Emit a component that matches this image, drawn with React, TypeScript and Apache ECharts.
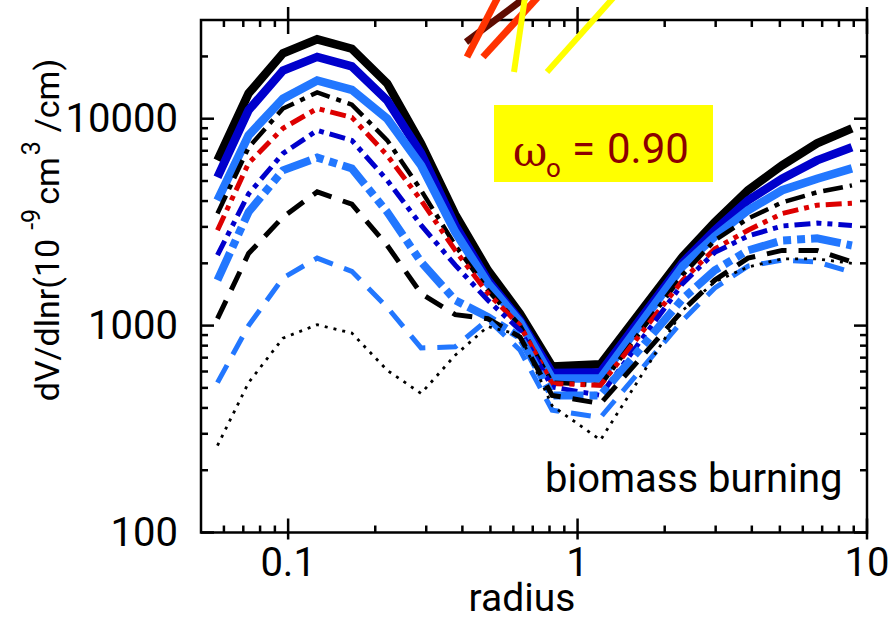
import React, { useEffect, useRef } from 'react';
import * as echarts from 'echarts';

// radius grid (µm)
const radius = [0.057, 0.073, 0.096, 0.126, 0.166, 0.22, 0.288, 0.378, 0.49, 0.633, 0.817, 1.2, 2.31, 2.98, 3.88, 5.09, 6.72, 8.87];

// dV/dlnr series
const blackSolid = [6290, 13250, 20700, 24200, 21800, 14800, 7580, 3440, 1850, 1140, 635, 650, 2160, 3160, 4510, 5950, 7600, 8980];
const blueSolid = [5210, 11000, 17100, 19900, 17900, 12260, 6800, 3050, 1660, 1060, 590, 595, 2020, 2890, 4030, 5130, 6290, 7280];
const lightBlueSolid = [4030, 8310, 12500, 15300, 13800, 10000, 5950, 2830, 1600, 1040, 555, 555, 1940, 2700, 3610, 4510, 5130, 5750];
const blackDashDot = [3480, 7250, 11200, 13400, 11700, 7860, 4510, 2440, 1480, 1000, 530, 515, 1760, 2580, 3290, 3940, 4410, 4760];
const redDashDotDot = [2890, 6100, 8990, 11200, 10150, 6650, 4030, 2310, 1430, 1000, 525, 515, 1660, 2350, 2890, 3480, 3820, 3900];
const blueDashDotDot = [2190, 4330, 6800, 8780, 7860, 5040, 3060, 1960, 1325, 950, 505, 460, 1600, 2260, 2710, 3030, 3130, 3050];
const lightBlueDashDot = [1660, 3540, 5630, 6490, 5750, 3540, 2030, 1325, 1100, 880, 460, 460, 1350, 1850, 2310, 2580, 2640, 2440];
const blackDashed = [1080, 2230, 3350, 4430, 3860, 2440, 1430, 1130, 1080, 880, 460, 420, 1186, 1660, 2120, 2310, 2310, 2030];
const lightBlueDashed = [530, 1000, 1700, 2120, 1830, 1225, 780, 790, 1070, 760, 390, 360, 1060, 1520, 1940, 2070, 2030, 1810];
const blackDotted = [263, 530, 870, 1010, 920, 608, 470, 720, 990, 900, 410, 280, 1186, 1630, 1920, 2100, 2100, 2000];

// ticks and labels
const xMajorTicks = [0.1, 1, 10];
const xTickLabels = ['0.1', '1', '10'];
const xMinorTicks = [0.06, 0.07, 0.08, 0.09, 0.2, 0.3, 0.4, 0.5, 0.6, 0.7, 0.8, 0.9, 2, 3, 4, 5, 6, 7, 8, 9];
const yMajorTicks = [100, 1000, 10000];
const yTickLabels = ['100', '1000', '10000'];
const yMinorTicks = [200, 300, 400, 500, 600, 700, 800, 900, 2000, 3000, 4000, 5000, 6000, 7000, 8000, 9000, 20000];

const X_MIN = 0.05, X_MAX = 10, Y_MIN = 100, Y_MAX = 30000;
const FONT = 'Roboto, "DejaVu Sans", sans-serif';

function labelFor(v: number, ticks: number[], labels: string[]) {
  for (let i = 0; i < ticks.length; i++) {
    if (Math.abs(Math.log10(v) - Math.log10(ticks[i])) < 1e-6) return labels[i];
  }
  return '';
}

function measure(text: string, size: number) {
  const c = document.createElement('canvas').getContext('2d')!;
  c.font = `${size}px Roboto`;
  return c.measureText(text).width;
}

export default function App() {
  const ref = useRef<HTMLDivElement>(null);
  useEffect(() => {
    document.body.style.margin = '0';
    const chart = echarts.init(ref.current!, null, { renderer: 'svg' });

    const defs = [
      { data: blackSolid, color: '#000000', width: 8.5, type: 'solid' as any },
      { data: blueSolid, color: '#0000CC', width: 8.5, type: 'solid' as any },
      { data: lightBlueSolid, color: '#2277FF', width: 8.5, type: 'solid' as any },
      { data: blackDashDot, color: '#000000', width: 4.5, type: [20, 7, 5, 7] },
      { data: redDashDotDot, color: '#DD0000', width: 5, type: [16, 6, 5, 6, 5, 6] },
      { data: blueDashDotDot, color: '#0000CC', width: 5, type: [16, 6, 5, 6, 5, 6] },
      { data: lightBlueDashDot, color: '#2277FF', width: 8, type: [30, 6, 8, 6, 8, 6] },
      { data: blackDashed, color: '#000000', width: 5, type: [20, 12] },
      { data: lightBlueDashed, color: '#2277FF', width: 5, type: [20, 12] },
      { data: blackDotted, color: '#000000', width: 2.8, type: [3, 6] },
    ];

    const lineSeries = defs.map((d) => ({
      type: 'line',
      data: radius.map((r, i) => [r, d.data[i]]),
      symbol: 'none',
      silent: true,
      itemStyle: { color: d.color },
      lineStyle: { color: d.color, width: d.width, type: d.type, cap: 'butt', join: 'miter' },
    }));

    const tickData: number[][] = [];
    xMajorTicks.forEach((v) => tickData.push([v, Y_MIN, 0, 1]));
    xMinorTicks.forEach((v) => tickData.push([v, Y_MIN, 0, 0]));
    yMajorTicks.forEach((v) => tickData.push([X_MIN, v, 1, 1]));
    yMinorTicks.forEach((v) => tickData.push([X_MIN, v, 1, 0]));

    const tickStyle = { stroke: '#000', lineWidth: 2.5 };
    const tickSeries = {
      type: 'custom',
      silent: true,
      clip: false,
      z: 5,
      data: tickData,
      encode: { x: 0, y: 1 },
      renderItem: (params: any, api: any) => {
        const cs = params.coordSys;
        const kind = api.value(2);
        const major = api.value(3) === 1;
        const left = cs.x, right = cs.x + cs.width, top = cs.y, bot = cs.y + cs.height;
        if (kind === 0) {
          const px = api.coord([api.value(0), Y_MIN])[0];
          const inLen = major ? 14 : 7;
          return {
            type: 'group',
            children: [
              { type: 'line', shape: { x1: px, y1: bot + (major ? 7 : 0), x2: px, y2: bot - inLen }, style: tickStyle },
              { type: 'line', shape: { x1: px, y1: top - (major ? 13 : 0), x2: px, y2: top + inLen }, style: tickStyle },
            ],
          };
        }
        const py = api.coord([X_MIN, api.value(1)])[1];
        const inLen = major ? 13 : 7;
        return {
          type: 'group',
          children: [
            { type: 'line', shape: { x1: left, y1: py, x2: left + inLen, y2: py }, style: tickStyle },
            { type: 'line', shape: { x1: right, y1: py, x2: right - inLen, y2: py }, style: tickStyle },
          ],
        };
      },
    };

    // y axis name pieces (rotated)
    const B = 34, S = 25;
    const p1 = 'dV/dlnr(10', p2 = '-9', p3 = 'cm', p4 = '3', p5 = '/cm)';
    const w1 = measure(p1, B), w2 = measure(p2, S), w3 = measure(p3, B), w4 = measure(p4, S), w5 = measure(p5, B);
    const g1 = 9, g2 = 4, g3 = 2, g4 = 9;
    const o1 = 0, o2 = w1 + g1, o3 = o2 + w2 + g2, o4 = o3 + w3 + g3, o5 = o4 + w4 + g4;
    const total = o5 + w5;
    const baseStyle = (text: string, size: number) => ({
      text, fontSize: size, fontFamily: FONT, fill: '#000',
      align: 'left', verticalAlign: 'middle', textAlign: 'left', textVerticalAlign: 'middle',
    });

    const titleRed = '#8C0000';
    const tStyle = (text: string, size: number, family = FONT) => ({
      text, fontSize: size, fontFamily: family, fill: titleRed,
      align: 'left', verticalAlign: 'middle', textAlign: 'left', textVerticalAlign: 'middle',
    });

    chart.setOption({
      animation: false,
      grid: {
        left: 201, right: 27, top: 20, bottom: 88.5,
        show: true, borderColor: '#000', borderWidth: 2.5, backgroundColor: 'transparent',
      },
      xAxis: {
        type: 'log', logBase: 10, min: X_MIN, max: X_MAX,
        axisLine: { show: false }, axisTick: { show: false }, splitLine: { show: false },
        axisLabel: {
          fontSize: 40, fontFamily: FONT, color: '#000', margin: 10,
          showMinLabel: false,
          formatter: (v: number) => labelFor(v, xMajorTicks, xTickLabels),
        },
      },
      yAxis: {
        type: 'log', logBase: 10, min: Y_MIN, max: Y_MAX,
        axisLine: { show: false }, axisTick: { show: false }, splitLine: { show: false },
        axisLabel: {
          fontSize: 40, fontFamily: FONT, color: '#000', margin: 23,
          showMaxLabel: false,
          formatter: (v: number) => labelFor(v, yMajorTicks, yTickLabels),
        },
      },
      series: [...lineSeries, tickSeries],
      graphic: [
        // decorative coloured strokes at the top
        { type: 'line', z: 100, shape: { x1: 466, y1: 42, x2: 526, y2: -3 }, style: { stroke: '#5E0B00', lineWidth: 7 } },
        { type: 'line', z: 101, shape: { x1: 467, y1: 57, x2: 498, y2: -3 }, style: { stroke: '#FF3300', lineWidth: 7 } },
        { type: 'line', z: 101, shape: { x1: 483, y1: 57, x2: 538, y2: -3 }, style: { stroke: '#FF3300', lineWidth: 7 } },
        { type: 'line', z: 102, shape: { x1: 514, y1: 72, x2: 525, y2: -3 }, style: { stroke: '#FFFF00', lineWidth: 6 } },
        { type: 'line', z: 102, shape: { x1: 547, y1: 72, x2: 614, y2: -3 }, style: { stroke: '#FFFF00', lineWidth: 6 } },
        // omega box
        { type: 'rect', z: 103, shape: { x: 494, y: 105, width: 219, height: 77 }, style: { fill: '#FFFF00' } },
        { type: 'text', z: 104, x: 513, y: 151, style: tStyle('ω', 42, '"DejaVu Serif", serif') },
        { type: 'text', z: 104, x: 546, y: 168, style: tStyle('o', 26) },
        { type: 'text', z: 104, x: 572, y: 148, style: tStyle('=', 42) },
        { type: 'text', z: 104, x: 607, y: 148, style: tStyle('0.90', 42) },
        // annotation
        {
          type: 'text', z: 104, x: 545, y: 478,
          style: { text: 'biomass burning', fontSize: 40, fontFamily: FONT, fill: '#000', align: 'left', verticalAlign: 'middle', textAlign: 'left', textVerticalAlign: 'middle' },
        },
        // x axis name
        {
          type: 'text', z: 104, x: 522, y: 598,
          style: { text: 'radius', fontSize: 39, fontFamily: FONT, fill: '#000', align: 'center', verticalAlign: 'middle', textAlign: 'center', textVerticalAlign: 'middle' },
        },
        // y axis name
        {
          type: 'group', z: 104, x: 47, y: 230 + total / 2, rotation: Math.PI / 2,
          children: [
            { type: 'text', x: o1, y: 0, style: baseStyle(p1, B) },
            { type: 'text', x: o2, y: -16, style: baseStyle(p2, S) },
            { type: 'text', x: o3, y: 0, style: baseStyle(p3, B) },
            { type: 'text', x: o4, y: -16, style: baseStyle(p4, S) },
            { type: 'text', x: o5, y: 0, style: baseStyle(p5, B) },
          ],
        },
      ],
    });
    return () => chart.dispose();
  }, []);
  return <div ref={ref} style={{ width: 894, height: 621 }} />;
}
